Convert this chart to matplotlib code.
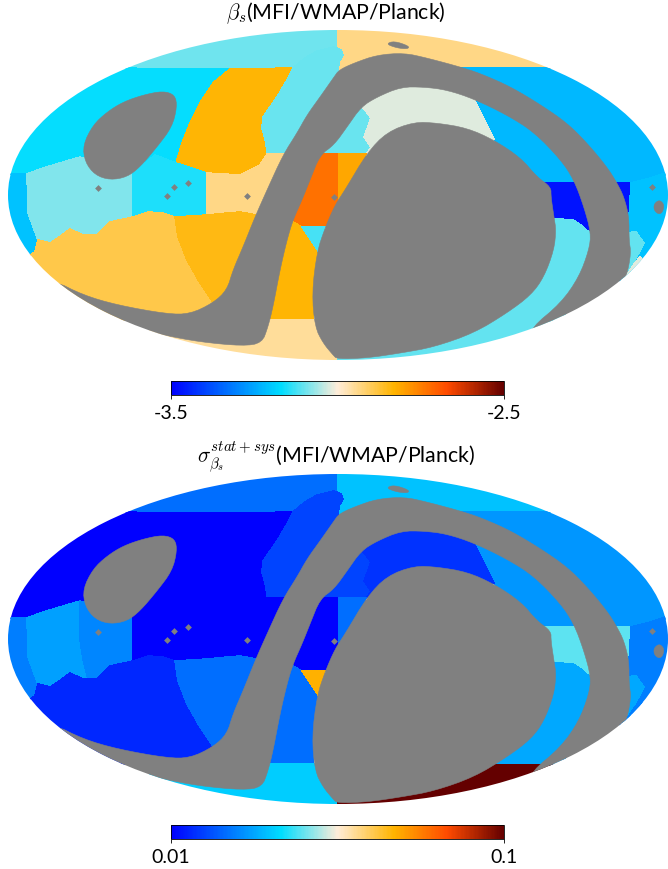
import matplotlib
matplotlib.use("Agg")
import matplotlib.pyplot as plt
from matplotlib.cm import ScalarMappable
from matplotlib.colors import LinearSegmentedColormap, LogNorm, Normalize
from matplotlib.patches import Ellipse, Polygon

plt.rcParams["font.family"] = ["Lato", "DejaVu Sans"]
plt.rcParams["mathtext.fontset"] = "cm"

# sky regions, outlines in pixels
region_names = ["A", "B", "C", "E", "D", "F", "G", "H", "I", "J", "K1", "K2", "L", "M", "N",
                "O", "P", "R", "Q", "T1", "T2", "S1", "S2", "U", "V", "W"]
region_outlines = [
    [(100, 68), (293, 68), (305, 58), (317, 51), (334, 47), (338, 47), (338, 20), (100, 20)],
    [(0, 174), (27, 174), (43, 168), (63, 162), (83, 157), (133, 173), (155, 155), (176, 163), (182, 143),
     (190, 123), (200, 103), (213, 83), (230, 69), (100, 68), (0, 68)],
    [(176, 163), (207, 173), (240, 175), (260, 165), (267, 154), (266, 143), (262, 128), (263, 117),
     (277, 97), (287, 80), (293, 68), (230, 69), (213, 83), (200, 103), (190, 123), (182, 143)],
    [(337, 20), (337, 75), (467, 75), (467, 68), (560, 68), (560, 20)],
    [(293, 68), (305, 58), (317, 51), (334, 47), (341, 50), (343, 55), (339, 62), (338, 75), (361, 105),
     (371, 118), (364, 137), (371, 147), (366, 154), (267, 154), (266, 143), (262, 128), (263, 117),
     (277, 97), (287, 80)],
    [(460, 68), (680, 68), (680, 172), (654, 177), (631, 183), (537, 183), (494, 139), (474, 99)],
    [(361, 105), (400, 80), (470, 85), (474, 99), (494, 139), (367, 153), (371, 147), (364, 137), (371, 118)],
    [(290, 154), (339, 154), (339, 200), (333, 227), (293, 227)],
    [(339, 154), (366, 154), (350, 210), (339, 210)],
    [(0, 174), (27, 174), (28, 213), (38, 240), (35, 252), (30, 255), (0, 260)],
    [(27, 174), (43, 168), (63, 162), (80, 157), (80, 196), (83, 215), (88, 235), (83, 235), (70, 229),
     (58, 238), (50, 243), (38, 240), (28, 213)],
    [(80, 157), (133, 173), (133, 217), (110, 222), (97, 235), (88, 235), (83, 215), (80, 196)],
    [(133, 173), (155, 155), (176, 163), (207, 173), (207, 215), (175, 217), (163, 213), (148, 212), (133, 217)],
    [(207, 173), (240, 175), (260, 165), (267, 154), (300, 154), (280, 215), (257, 215), (240, 212),
     (227, 213), (207, 215)],
    [(30, 255), (35, 252), (38, 240), (50, 243), (58, 238), (70, 229), (83, 235), (97, 235), (110, 222),
     (133, 217), (148, 212), (163, 213), (175, 217), (178, 237), (187, 260), (200, 283), (213, 302),
     (213, 320), (100, 320), (30, 280)],
    [(175, 217), (207, 215), (227, 213), (240, 212), (257, 215), (280, 215), (240, 300), (213, 302),
     (200, 283), (187, 260), (178, 237)],
    [(285, 222), (293, 222), (302, 227), (318, 250), (313, 320), (260, 320)],
    [(302, 227), (325, 227), (318, 251)],
    [(150, 325), (260, 320), (340, 320), (340, 370), (150, 370)],
    [(540, 217), (574, 218), (584, 225), (595, 235), (590, 280), (560, 321), (338, 321), (338, 300)],
    [(338, 321), (560, 321), (531, 345), (450, 370), (338, 370)],
    [(540, 183), (600, 183), (595, 235), (584, 225), (574, 218), (540, 217)],
    [(610, 183), (631, 183), (629, 217), (620, 217)],
    [(631, 183), (654, 177), (668, 172), (680, 172), (680, 300), (620, 300), (620, 240), (629, 217)],
    [(620, 233), (636, 232), (644, 243), (634, 262), (627, 278), (620, 278)],
    [(625, 278), (634, 264), (640, 257), (645, 262), (630, 285)],
]

beta_s = [-3.097, -3.165, -2.835, -2.936, -3.10, -3.224, -3.02, -2.73, -2.81, -3.21, -3.085, -3.085,
          -3.15, -2.935, -2.89, -2.845, -2.835, -3.125, -2.95, -3.105, -3.105, -3.47, -3.47, -3.21,
          -3.105, -3.02]
sigma_beta = [0.0146, 0.01, 0.01, 0.0195, 0.0127, 0.0167, 0.0119, 0.01, 0.0146, 0.0154, 0.0174, 0.0159,
              0.01, 0.01, 0.0115, 0.0146, 0.0146, 0.0473, 0.0202, 0.0179, 0.1, 0.0248, 0.0248, 0.0155,
              0.0179, 0.0155]

# masked areas
mask_teardrop = [(163, 91), (175, 95), (177, 107), (172, 127), (157, 147), (140, 167), (127, 177), (110, 180),
                 (95, 175), (85, 162), (83, 145), (93, 125), (107, 112), (123, 102), (143, 95)]
mask_disc = [(367, 153), (387, 132), (414, 122), (437, 123), (467, 128), (494, 140), (521, 158), (537, 177),
             (551, 187), (551, 197), (554, 217), (556, 230), (554, 250), (544, 277), (531, 295), (507, 313),
             (474, 333), (434, 347), (401, 353), (367, 358), (337, 359), (333, 355), (323, 343), (315, 327),
             (312, 293), (317, 252), (325, 228), (335, 205), (345, 190)]
mask_band = [(53, 280), (83, 295), (117, 305), (167, 314), (190, 314), (213, 303), (227, 290), (233, 270),
             (243, 247), (255, 217), (267, 190), (283, 155), (297, 133), (307, 115), (320, 97), (334, 77),
             (339, 70), (354, 63), (377, 55), (404, 53), (427, 58), (464, 68), (484, 75), (511, 87),
             (541, 105), (567, 123), (587, 143), (607, 167), (617, 183), (624, 197), (629, 217), (629, 240),
             (631, 253), (627, 275), (621, 282), (650, 300), (531, 340), (531, 328), (561, 303), (579, 277),
             (589, 250), (591, 233), (584, 207), (574, 180), (561, 160), (534, 132), (507, 115), (474, 99),
             (447, 90), (424, 87), (401, 87), (377, 97), (361, 107), (347, 127), (334, 145), (320, 155),
             (310, 180), (302, 200), (293, 220), (287, 240), (280, 270), (273, 307), (268, 327), (262, 343),
             (243, 346), (200, 342), (163, 335), (157, 333), (100, 330), (40, 290)]
mask_top_spot = [(386, 44), (394, 41), (409, 46), (408, 49), (397, 48)]
mask_right_spot = [(659, 200), (663, 203), (664, 207), (662, 213), (658, 214), (654, 210), (654, 204)]
spot_x = [98, 174, 188, 167, 247, 652, 334]
spot_y = [188, 187, 183, 196, 196, 187, 197]

titles = [r"$\beta_s$(MFI/WMAP/Planck)", r"$\sigma_{\beta_s}^{stat+sys}$(MFI/WMAP/Planck)"]
tick_values = [[-3.5, -2.5], [0.01, 0.1]]
tick_labels = [["-3.5", "-2.5"], ["0.01", "0.1"]]

cmap = LinearSegmentedColormap.from_list(
    "planck",
    [(0.0, (0, 0, 1)), (0.33, (0, 221 / 255, 1)), (0.5, (1, 237 / 255, 217 / 255)),
     (0.67, (1, 180 / 255, 0)), (0.83, (1, 75 / 255, 0)), (1.0, (100 / 255, 0, 0))],
)
grey = "#808080"


def round_corners(outline):
    # corner cutting, the mask edges are curved in the map
    out = []
    for i, (x0, y0) in enumerate(outline):
        x1, y1 = outline[(i + 1) % len(outline)]
        out.append((0.75 * x0 + 0.25 * x1, 0.75 * y0 + 0.25 * y1))
        out.append((0.25 * x0 + 0.75 * x1, 0.25 * y0 + 0.75 * y1))
    return out


def draw_panel(fig, offset, values, norm, title, ticks, labels):
    ax = fig.add_axes([0, 1 - (370 + offset) / 869, 1, 350 / 869])
    ax.set_xlim(0, 668)
    ax.set_ylim(370, 20)
    ax.axis("off")
    sky = Ellipse((338, 195), 660, 330, transform=ax.transData)

    for outline, value in zip(region_outlines, values):
        colour = cmap(norm(value))
        patch = Polygon(outline, facecolor=colour, edgecolor=colour, lw=0.4, antialiased=False)
        ax.add_patch(patch)
        patch.set_clip_path(sky)
    for outline in [mask_teardrop, mask_disc, mask_band, mask_top_spot, mask_right_spot]:
        patch = Polygon(round_corners(round_corners(outline)), facecolor=grey, edgecolor=grey, lw=0.4)
        ax.add_patch(patch)
        patch.set_clip_path(sky)
    ax.scatter(spot_x, spot_y, marker="D", s=12, color=grey, lw=0)

    fig.text(336 / 668, 1 - (13 + offset) / 869, title, ha="center", va="center", fontsize=15.3)

    cax = fig.add_axes([171 / 668, 1 - (395 + offset) / 869, 333 / 668, 14 / 869])
    cbar = fig.colorbar(ScalarMappable(norm=norm, cmap=cmap), cax=cax, orientation="horizontal")
    cbar.set_ticks(ticks)
    cbar.set_ticklabels(labels)
    cbar.ax.minorticks_off()
    cbar.ax.tick_params(labelsize=14, length=3, width=0.6, pad=4.5)
    cbar.outline.set_linewidth(0.6)


def main():
    fig = plt.figure(figsize=(6.68, 8.69), dpi=100)
    draw_panel(fig, 0, beta_s, Normalize(-3.5, -2.5), titles[0], tick_values[0], tick_labels[0])
    draw_panel(fig, 444, sigma_beta, LogNorm(0.01, 0.1), titles[1], tick_values[1], tick_labels[1])
    fig.savefig("out.png", dpi=100)


if __name__ == "__main__":
    main()
